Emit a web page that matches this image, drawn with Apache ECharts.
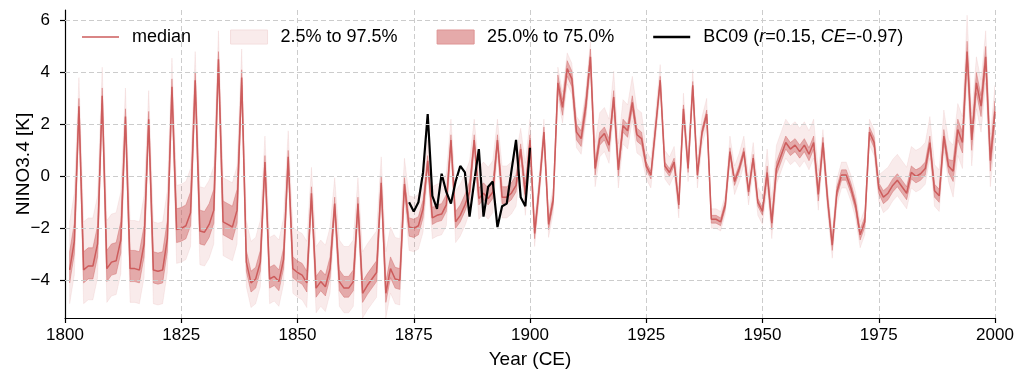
<!DOCTYPE html>
<html>
<head>
<meta charset="utf-8">
<script src="https://cdn.jsdelivr.net/npm/echarts@6/dist/echarts.min.js"></script>
<style>html,body{margin:0;padding:0;background:#fff;}#c{width:1025px;height:380px;}</style>
</head>
<body>
<div id="c"></div>
<script>
// ---- data ----
const startYear = 1801;
const median = [
-3.6,-2.5,2.7,-3.6,-3.45,-3.45,-2.6,3.1,-3.55,-3.3,
-3.25,-2.45,2.3,-3.55,-3.55,-3.6,-2.6,2.2,-3.6,-3.65,
-3.6,-2.4,3.45,-2.05,-2.0,-1.9,-1.4,3.7,-2.1,-2.15,
-1.85,-1.3,4.5,-1.75,-1.85,-1.95,-1.3,3.8,-3.3,-4.1,
-3.95,-3.3,0.55,-3.95,-3.85,-4.05,-3.2,0.75,-3.55,-3.7,
-3.8,-4.1,-0.65,-4.3,-4.05,-4.25,-3.55,-1.05,-4.05,-4.3,
-4.3,-4.05,-1.05,-4.5,-4.2,-3.95,-3.7,-0.25,-4.5,-3.55,
-3.95,-4.0,-0.3,-1.95,-2.0,-1.9,-1.25,0.6,-1.6,-1.5,
-1.45,-1.1,1.4,-1.75,-1.5,-1.1,-0.6,1.4,-0.85,-0.65,
-0.85,-0.6,1.4,-0.8,-0.8,-0.65,-0.35,1.05,-0.7,1.4,
-2.2,-0.4,1.7,-1.85,-0.9,3.6,2.65,4.15,3.75,1.7,
1.45,2.7,4.6,0.3,1.45,1.65,1.2,3.05,0.25,1.95,
1.75,2.85,1.6,1.45,0.4,0.05,1.85,3.7,0.4,0.15,
0.55,-1.1,2.6,0.3,3.5,0.05,1.7,2.4,-1.65,-1.65,
-1.75,-1.1,0.95,-0.2,0.3,0.95,-0.6,0.7,-1.0,-1.35,
0.15,-1.8,0.3,0.8,1.3,1.05,1.2,0.95,1.2,0.85,
1.3,-0.7,1.3,-0.9,-2.65,-0.6,0.05,0.05,-0.45,-1.1,
-2.25,-1.75,1.7,1.3,-0.45,-0.8,-0.65,-0.35,-0.15,-0.4,
-0.65,0.15,0.0,0.1,0.3,1.3,-0.55,-0.75,1.55,0.4,
0.2,1.8,1.3,4.8,1.4,3.6,2.7,4.6,0.6,2.5
];
const q025 = [
-4.9,-3.8,2.0,-4.9,-4.75,-4.75,-3.9,2.4,-4.85,-4.6,
-4.55,-3.75,1.6,-4.85,-4.85,-4.9,-3.9,1.5,-4.9,-4.95,
-4.9,-3.7,2.75,-3.35,-3.3,-3.2,-2.7,3.0,-3.4,-3.45,
-3.15,-2.6,3.8,-3.05,-3.15,-3.25,-2.6,3.1,-4.25,-5.05,
-4.9,-4.25,-0.05,-4.9,-4.8,-5.0,-4.15,0.15,-4.5,-4.65,
-4.75,-5.05,-1.25,-5.25,-5.0,-5.2,-4.5,-1.65,-5.0,-5.25,
-5.25,-5.0,-1.65,-5.45,-5.15,-4.9,-4.65,-0.85,-5.45,-4.5,
-4.9,-4.95,-0.9,-2.85,-2.9,-2.8,-2.15,0.0,-2.4,-2.3,
-2.25,-1.9,0.8,-2.55,-2.3,-1.9,-1.4,0.8,-1.65,-1.45,
-1.65,-1.4,0.8,-1.6,-1.6,-1.45,-1.15,0.45,-1.5,0.8,
-2.7,-0.9,1.2,-2.35,-1.4,3.0,2.05,3.55,3.15,1.1,
0.85,2.1,4.0,-0.4,0.75,0.95,0.5,2.35,-0.45,1.25,
1.05,2.15,0.9,0.75,-0.1,-0.45,1.35,3.2,-0.1,-0.35,
0.05,-1.6,2.1,-0.2,3.0,-0.45,1.2,1.9,-2.0,-2.0,
-2.1,-1.45,0.45,-0.7,-0.2,0.45,-1.1,0.2,-1.5,-1.85,
-0.45,-2.4,-0.3,0.2,0.7,0.45,0.6,0.35,0.6,0.25,
0.7,-1.3,0.8,-1.4,-3.15,-1.1,-0.45,-0.45,-0.95,-1.6,
-2.75,-2.25,1.2,0.8,-0.95,-1.4,-1.25,-0.95,-0.75,-1.0,
-1.25,-0.45,-0.6,-0.5,-0.3,0.7,-1.15,-1.35,0.95,-0.2,
-0.8,0.8,0.3,3.8,0.4,2.6,1.7,3.6,-0.4,1.5
];
const q25 = [
-4.1,-3.0,2.4,-4.1,-3.95,-3.95,-3.1,2.8,-4.05,-3.8,
-3.75,-2.95,2.0,-4.05,-4.05,-4.1,-3.1,1.9,-4.1,-4.15,
-4.1,-2.9,3.15,-2.55,-2.5,-2.4,-1.9,3.4,-2.6,-2.65,
-2.35,-1.8,4.2,-2.25,-2.35,-2.45,-1.8,3.5,-3.65,-4.45,
-4.3,-3.65,0.3,-4.3,-4.2,-4.4,-3.55,0.5,-3.9,-4.05,
-4.15,-4.45,-0.9,-4.65,-4.4,-4.6,-3.9,-1.3,-4.4,-4.65,
-4.65,-4.4,-1.3,-4.85,-4.55,-4.3,-4.05,-0.5,-4.85,-3.9,
-4.3,-4.35,-0.55,-2.3,-2.35,-2.25,-1.6,0.4,-1.85,-1.75,
-1.7,-1.35,1.2,-2.0,-1.75,-1.35,-0.85,1.2,-1.1,-0.9,
-1.1,-0.85,1.2,-1.05,-1.05,-0.9,-0.6,0.85,-0.95,1.2,
-2.4,-0.6,1.5,-2.05,-1.1,3.3,2.35,3.85,3.45,1.4,
1.15,2.4,4.3,0.05,1.2,1.4,0.95,2.8,0.0,1.7,
1.5,2.6,1.35,1.2,0.25,-0.1,1.7,3.55,0.25,0.0,
0.4,-1.25,2.45,0.15,3.35,-0.1,1.55,2.25,-1.8,-1.8,
-1.9,-1.25,0.8,-0.35,0.15,0.8,-0.75,0.55,-1.15,-1.5,
-0.1,-2.05,0.05,0.55,1.05,0.8,0.95,0.7,0.95,0.6,
1.05,-0.95,1.1,-1.1,-2.85,-0.8,-0.15,-0.15,-0.65,-1.3,
-2.45,-1.95,1.5,1.1,-0.65,-1.05,-0.9,-0.6,-0.4,-0.65,
-0.9,-0.1,-0.25,-0.15,0.05,1.05,-0.8,-1.0,1.3,0.15,
-0.2,1.4,0.9,4.4,1.0,3.2,2.3,4.2,0.2,2.1
];
const q75 = [
-2.9,-1.8,3.0,-2.9,-2.75,-2.75,-1.9,3.4,-2.85,-2.6,
-2.55,-1.75,2.6,-2.85,-2.85,-2.9,-1.9,2.5,-2.9,-2.95,
-2.9,-1.7,3.75,-1.25,-1.2,-1.1,-0.6,4.0,-1.3,-1.35,
-1.05,-0.5,4.8,-0.95,-1.05,-1.15,-0.5,4.1,-2.85,-3.65,
-3.5,-2.85,0.8,-3.5,-3.4,-3.6,-2.75,1.0,-3.1,-3.25,
-3.35,-3.65,-0.4,-3.85,-3.6,-3.8,-3.1,-0.8,-3.6,-3.85,
-3.85,-3.6,-0.8,-4.05,-3.75,-3.5,-3.25,0.0,-4.05,-3.1,
-3.5,-3.55,-0.05,-1.6,-1.65,-1.55,-0.9,0.8,-1.2,-1.1,
-1.05,-0.7,1.6,-1.35,-1.1,-0.7,-0.2,1.6,-0.45,-0.25,
-0.45,-0.2,1.6,-0.4,-0.4,-0.25,0.05,1.25,-0.3,1.6,
-2.0,-0.2,1.9,-1.65,-0.7,3.9,2.95,4.45,4.05,2.0,
1.75,3.0,4.9,0.55,1.7,1.9,1.45,3.3,0.5,2.2,
2.0,3.1,1.85,1.7,0.55,0.2,2.0,3.85,0.55,0.3,
0.7,-0.95,2.75,0.45,3.65,0.2,1.85,2.55,-1.5,-1.5,
-1.6,-0.95,1.1,-0.05,0.45,1.1,-0.45,0.85,-0.85,-1.2,
0.4,-1.55,0.55,1.05,1.55,1.3,1.45,1.2,1.45,1.1,
1.55,-0.45,1.5,-0.7,-2.45,-0.4,0.25,0.25,-0.25,-0.9,
-2.05,-1.55,1.9,1.5,-0.25,-0.55,-0.4,-0.1,0.1,-0.15,
-0.4,0.4,0.25,0.35,0.55,1.55,-0.3,-0.5,1.8,0.65,
0.6,2.2,1.7,5.2,1.8,4.0,3.1,5.0,1.0,2.9
];
const q975 = [
-1.75,-0.65,3.8,-1.75,-1.6,-1.6,-0.75,4.2,-1.7,-1.45,
-1.4,-0.6,3.4,-1.7,-1.7,-1.75,-0.75,3.3,-1.75,-1.8,
-1.75,-0.55,4.55,-0.35,-0.3,-0.2,0.3,4.8,-0.4,-0.45,
-0.15,0.4,5.6,-0.05,-0.15,-0.25,0.4,4.9,-1.7,-2.5,
-2.35,-1.7,1.55,-2.35,-2.25,-2.45,-1.6,1.75,-1.95,-2.1,
-2.2,-2.5,0.35,-2.7,-2.45,-2.65,-1.95,-0.05,-2.45,-2.7,
-2.7,-2.45,-0.05,-2.9,-2.6,-2.35,-2.1,0.75,-2.9,-1.95,
-2.35,-2.4,0.7,-0.75,-0.8,-0.7,-0.05,1.4,-0.4,-0.3,
-0.25,0.1,2.2,-0.55,-0.3,0.1,0.6,2.2,0.35,0.55,
0.35,0.6,2.2,0.4,0.4,0.55,0.85,1.85,0.5,2.2,
-1.7,0.1,2.2,-1.35,-0.4,4.2,3.25,4.75,4.35,2.3,
2.05,3.3,5.2,1.3,2.45,2.65,2.2,4.05,1.25,2.95,
2.75,3.85,2.6,2.45,1.0,0.65,2.45,4.3,1.0,0.75,
1.15,-0.5,3.2,0.9,4.1,0.65,2.3,3.0,-1.25,-1.25,
-1.35,-0.7,1.55,0.4,0.9,1.55,0.0,1.3,-0.4,-0.75,
1.05,-0.9,1.2,1.7,2.2,1.95,2.1,1.85,2.1,1.75,
2.2,0.2,1.8,-0.4,-2.15,-0.1,0.55,0.55,0.05,-0.6,
-1.75,-1.25,2.2,1.8,0.05,0.2,0.35,0.65,0.85,0.6,
0.35,1.15,1.0,1.1,1.3,2.3,0.45,0.25,2.55,1.4,
1.2,2.8,2.3,6.2,2.4,4.6,3.7,5.6,1.6,3.5
];
const bcStartYear = 1874;
const bc09 = [
-1.0,-1.35,-1.0,0.15,2.4,-0.75,-1.25,0.1,-0.6,-1.05,
-0.2,0.4,0.15,-1.55,-0.2,1.05,-1.55,-0.4,-0.2,-1.95,
-1.15,-1.05,0.2,1.4,-0.8,-1.15,1.1
];
const xTicks = { min: 1800, max: 2000, step: 25 };
const yTicks = [-4, -2, 0, 2, 4, 6];

// ---- build series data ----
const years = median.map((_, i) => startYear + i);
const pair = arr => arr.map((v, i) => [years[i], v]);
const bcData = bc09.map((v, i) => [bcStartYear + i, v]);

const FONT = 'Liberation Sans, Arial, sans-serif';
const RED = '#cd5c5c';
const GRID = { type: [5, 3], color: '#cccccc', width: 1 };

function band(name, lo, hi, fill, edge) {
  return {
    name, type: 'custom', silent: true, clip: true,
    data: [[years[0], lo[0], hi[0]]],
    encode: { x: 0, y: [1, 2] },
    renderItem: (params, api) => {
      const pts = [];
      for (let i = 0; i < years.length; i++) pts.push(api.coord([years[i], hi[i]]));
      for (let i = years.length - 1; i >= 0; i--) pts.push(api.coord([years[i], lo[i]]));
      return { type: 'polygon', shape: { points: pts }, style: { fill: fill, stroke: edge, lineWidth: 0.8 } };
    }
  };
}

const chart = echarts.init(document.getElementById('c'), null, { renderer: 'canvas' });
chart.setOption({
  animation: false,
  textStyle: { fontFamily: FONT },
  grid: { left: 65, right: 30, top: 10, bottom: 62, containLabel: false, outerBoundsMode: 'none' },
  legend: {
    left: 77, top: 23, itemWidth: 37, itemHeight: 14, itemGap: 39,
    selectedMode: false,
    data: [
      { name: 'median', icon: 'path://M0,0H37V1.4H0Z', itemStyle: { color: RED, borderWidth: 0 } },
      { name: '2.5% to 97.5%', icon: 'rect', itemStyle: { color: 'rgb(249,235,235)', borderColor: 'rgb(244,222,222)', borderWidth: 1 } },
      { name: '25.0% to 75.0%', icon: 'rect', itemStyle: { color: 'rgb(229,170,170)', borderColor: 'rgb(222,148,148)', borderWidth: 1 } },
      { name: 'BC09', icon: 'path://M0,0H37V2.6H0Z', itemStyle: { color: '#000', borderWidth: 0 } }
    ],
    formatter: n => n === 'BC09' ? 'BC09 ({i|r}=0.15, {i|CE}=-0.97)' : n,
    textStyle: {
      fontFamily: FONT, fontSize: 18, color: '#000', padding: [0, 0, 0, 8],
      rich: { i: { fontFamily: FONT, fontSize: 18, fontStyle: 'italic', color: '#000' } }
    }
  },
  xAxis: {
    type: 'value', min: xTicks.min, max: xTicks.max, interval: xTicks.step,
    name: 'Year (CE)', nameLocation: 'middle', nameGap: 32, nameMoveOverlap: false,
    nameTextStyle: { fontFamily: FONT, fontSize: 19, color: '#000' },
    axisLine: { onZero: false, lineStyle: { color: '#000', width: 1.2 } },
    axisTick: { length: 5, lineStyle: { color: '#000', width: 1.2 } },
    axisLabel: { fontFamily: FONT, fontSize: 17, color: '#000', margin: 9, formatter: v => String(v) },
    splitLine: { show: true, lineStyle: GRID }
  },
  yAxis: {
    type: 'value', min: -5.45, max: 6.4,
    name: 'NINO3.4 [K]', nameLocation: 'middle', nameGap: 32, nameMoveOverlap: false,
    nameTextStyle: { fontFamily: FONT, fontSize: 19, color: '#000' },
    axisLine: { show: true, onZero: false, lineStyle: { color: '#000', width: 1.2 } },
    axisTick: { show: true, length: 5, customValues: yTicks, lineStyle: { color: '#000', width: 1.2 } },
    axisLabel: {
      customValues: yTicks, fontFamily: FONT, fontSize: 17, color: '#000', margin: 15,
      formatter: v => (v < 0 ? '\u2212' : '') + Math.abs(v)
    },
    splitLine: { show: false }
  },
  series: [
    {
      name: 'ygrid', type: 'line', data: [], silent: true, z: 1,
      markLine: {
        silent: true, symbol: ['none', 'none'], label: { show: false },
        lineStyle: GRID, animation: false,
        data: yTicks.map(v => ({ yAxis: v }))
      }
    },
    band('2.5% to 97.5%', q025, q975, 'rgba(205,92,92,0.12)', 'rgba(205,92,92,0.12)'),
    band('25.0% to 75.0%', q25, q75, 'rgba(205,92,92,0.45)', 'rgba(205,92,92,0.5)'),
    {
      name: 'median', type: 'line', data: pair(median), symbol: 'none', silent: true,
      itemStyle: { color: RED },
      lineStyle: { color: RED, width: 1.5 }
    },
    {
      name: 'BC09', type: 'line', data: bcData, symbol: 'none', silent: true,
      itemStyle: { color: '#000' },
      lineStyle: { color: '#000', width: 2.2 }
    }
  ]
});
</script>
</body>
</html>
